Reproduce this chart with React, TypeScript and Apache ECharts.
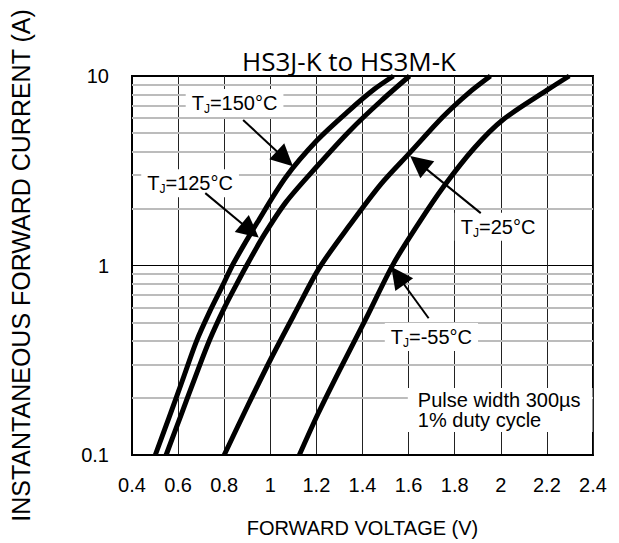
import React, { useEffect, useRef } from "react";
import * as echarts from "echarts";

// Forward voltage (V) and current (A)
const vf150 = [0.501, 0.561, 0.619, 0.68, 0.738, 0.792, 0.841, 0.944, 1.068, 1.204, 1.344, 1.452, 1.534];
const if150 = [0.1, 0.158, 0.248, 0.399, 0.574, 0.778, 1.03, 1.69, 2.93, 4.59, 6.61, 8.53, 10];

const vf125 = [0.548, 0.614, 0.676, 0.738, 0.8, 0.854, 0.907, 0.973, 1.068, 1.204, 1.344, 1.48, 1.604];
const if125 = [0.1, 0.164, 0.261, 0.408, 0.596, 0.798, 1.05, 1.45, 2.16, 3.35, 5.13, 7.38, 10];

const vf25 = [0.8, 0.903, 1.006, 1.109, 1.212, 1.344, 1.48, 1.604, 1.748, 1.86, 1.955];
const if25 = [0.1, 0.183, 0.328, 0.567, 0.968, 1.63, 2.69, 3.92, 6.08, 8.13, 10];

const vfM55 = [1.126, 1.208, 1.303, 1.414, 1.534, 1.645, 1.753, 1.885, 2.008, 2.202, 2.297];
const ifM55 = [0.1, 0.166, 0.284, 0.521, 1.02, 1.68, 2.62, 4.17, 5.86, 8.44, 10];

// Axes
const xMin = 0.4;
const xMax = 2.4;
const xStep = 0.2;
const yMin = 0.1;
const yMax = 10;
const minorGridValues = [0.2, 0.3, 0.4, 0.5, 0.6, 0.7, 0.8, 0.9, 2, 3, 4, 5, 6, 7, 8, 9];

// Annotations (data coordinates)
const tempLabels = ["150°C", "125°C", "25°C", "-55°C"];
const labelPos: [number, number][] = [
  [0.845, 7.2],
  [0.652, 2.72],
  [1.988, 1.6],
  [1.699, 0.419],
];
const arrowFrom: [number, number][] = [
  [0.882, 5.86],
  [0.718, 2.41],
  [1.913, 1.89],
  [1.687, 0.527],
];
const arrowTo: [number, number][] = [
  [1.063, 3.66],
  [0.913, 1.53],
  [1.644, 3.48],
  [1.553, 0.883],
];
const noteText = "Pulse width 300µs\n1% duty cycle";
const notePos: [number, number] = [1.64, 0.1726];

const chartTitle = "HS3J-K to HS3M-K";
const xName = "FORWARD VOLTAGE (V)";
const yName = "INSTANTANEOUS FORWARD CURRENT (A)";

const FONT = "Liberation Sans";

function pairs(xs: number[], ys: number[]) {
  return xs.map((x, i) => [x, ys[i]]);
}

export default function App() {
  const ref = useRef<HTMLDivElement>(null);
  useEffect(() => {
    document.body.style.margin = "0";
    document.body.style.overflow = "hidden";
    const chart = echarts.init(ref.current!, undefined, { renderer: "svg" });
    const curve = (name: string, xs: number[], ys: number[]) => ({
      name,
      type: "line",
      data: pairs(xs, ys),
      showSymbol: false,
      smooth: 0.3,
      lineStyle: { color: "#000", width: 5, cap: "butt", join: "round" },
      itemStyle: { color: "#000" },
      clip: true,
      z: 10,
      silent: true,
    });
    chart.setOption({
      animation: false,
      backgroundColor: "#fff",
      grid: {
        left: 108,
        right: 26,
        top: 76,
        bottom: 88,
        show: true,
        borderColor: "#000",
        borderWidth: 2,
        backgroundColor: "#fff",
      },
      graphic: [
        {
          type: "text",
          x: 349,
          y: 61,
          style: {
            text: chartTitle,
            fontFamily: "Open Sans",
            fontSize: 26,
            fill: "#000",
            textAlign: "center",
            textVerticalAlign: "middle",
          },
        },
      ],
      xAxis: {
        type: "value",
        min: xMin,
        max: xMax,
        interval: xStep,
        axisLine: { show: true, lineStyle: { color: "#000", width: 2 } },
        axisTick: { show: false },
        splitLine: { show: true, lineStyle: { color: "#222", width: 1 } },
        axisLabel: {
          fontSize: 20,
          fontFamily: FONT,
          color: "#000",
          margin: 20,
          formatter: (v: number) => String(+v.toFixed(1)),
        },
        name: xName,
        nameLocation: "middle",
        nameGap: 63,
        nameTextStyle: { fontSize: 20, fontFamily: FONT, color: "#000" },
      },
      yAxis: {
        type: "log",
        logBase: 10,
        min: yMin,
        max: yMax,
        axisLine: { show: true, lineStyle: { color: "#000", width: 2 } },
        axisTick: { show: false },
        splitLine: { show: true, lineStyle: { color: "#000", width: 1 } },
        axisLabel: {
          fontSize: 20,
          fontFamily: FONT,
          color: "#000",
          margin: 23,
          formatter: (v: number) => (v < 1 ? String(+v.toFixed(1)) : String(Math.round(v))),
        },
        name: yName,
        nameLocation: "middle",
        nameGap: 99,
        nameTextStyle: { fontSize: 25, fontFamily: FONT, color: "#000" },
      },
      series: [
        {
          type: "line",
          data: [],
          z: 1,
          silent: true,
          markLine: {
            z: 1,
            silent: true,
            symbol: "none",
            animation: false,
            label: { show: false },
            lineStyle: { color: "#bcbcbc", width: 2, type: "solid" },
            data: minorGridValues.map((v) => ({ yAxis: v })),
          },
        },
        curve("150", vf150, if150),
        curve("125", vf125, if125),
        curve("25", vf25, if25),
        curve("-55", vfM55, ifM55),
        {
          type: "line",
          data: [],
          z: 20,
          silent: true,
          markLine: {
            z: 20,
            silent: true,
            animation: false,
            symbol: ["none", "triangle"],
            symbolSize: 22,
            label: { show: false },
            lineStyle: { color: "#000", width: 2, type: "solid" },
            itemStyle: { color: "#000" },
            data: arrowFrom.map((f, i) => [{ coord: f }, { coord: arrowTo[i] }]),
          },
          markPoint: {
            z: 15,
            silent: true,
            animation: false,
            symbol: "circle",
            symbolSize: 0,
            data: [
              ...tempLabels.map((t, i) => ({
                coord: labelPos[i],
                label: {
                  show: true,
                  position: "inside",
                  formatter: `{t|T}{s|J}{t|=${t}}`,
                  backgroundColor: "#fff",
                  padding: [2, 6, 2, 6],
                  rich: {
                    t: { fontSize: 20, fontFamily: FONT, color: "#000" },
                    s: { fontSize: 12, fontFamily: FONT, color: "#000", padding: [12, 0, 0, 0] },
                  },
                },
              })),
              {
                coord: notePos,
                label: {
                  show: true,
                  position: "right",
                  distance: 0,
                  formatter: noteText,
                  fontSize: 20,
                  lineHeight: 20,
                  fontFamily: FONT,
                  color: "#000",
                  align: "left",
                  backgroundColor: "#fff",
                  padding: [2, 12, 2, 10],
                  offset: [-10, 0],
                },
              },
            ],
          },
        },
      ],
    });
    return () => chart.dispose();
  }, []);
  return <div ref={ref} style={{ width: 619, height: 543 }} />;
}
